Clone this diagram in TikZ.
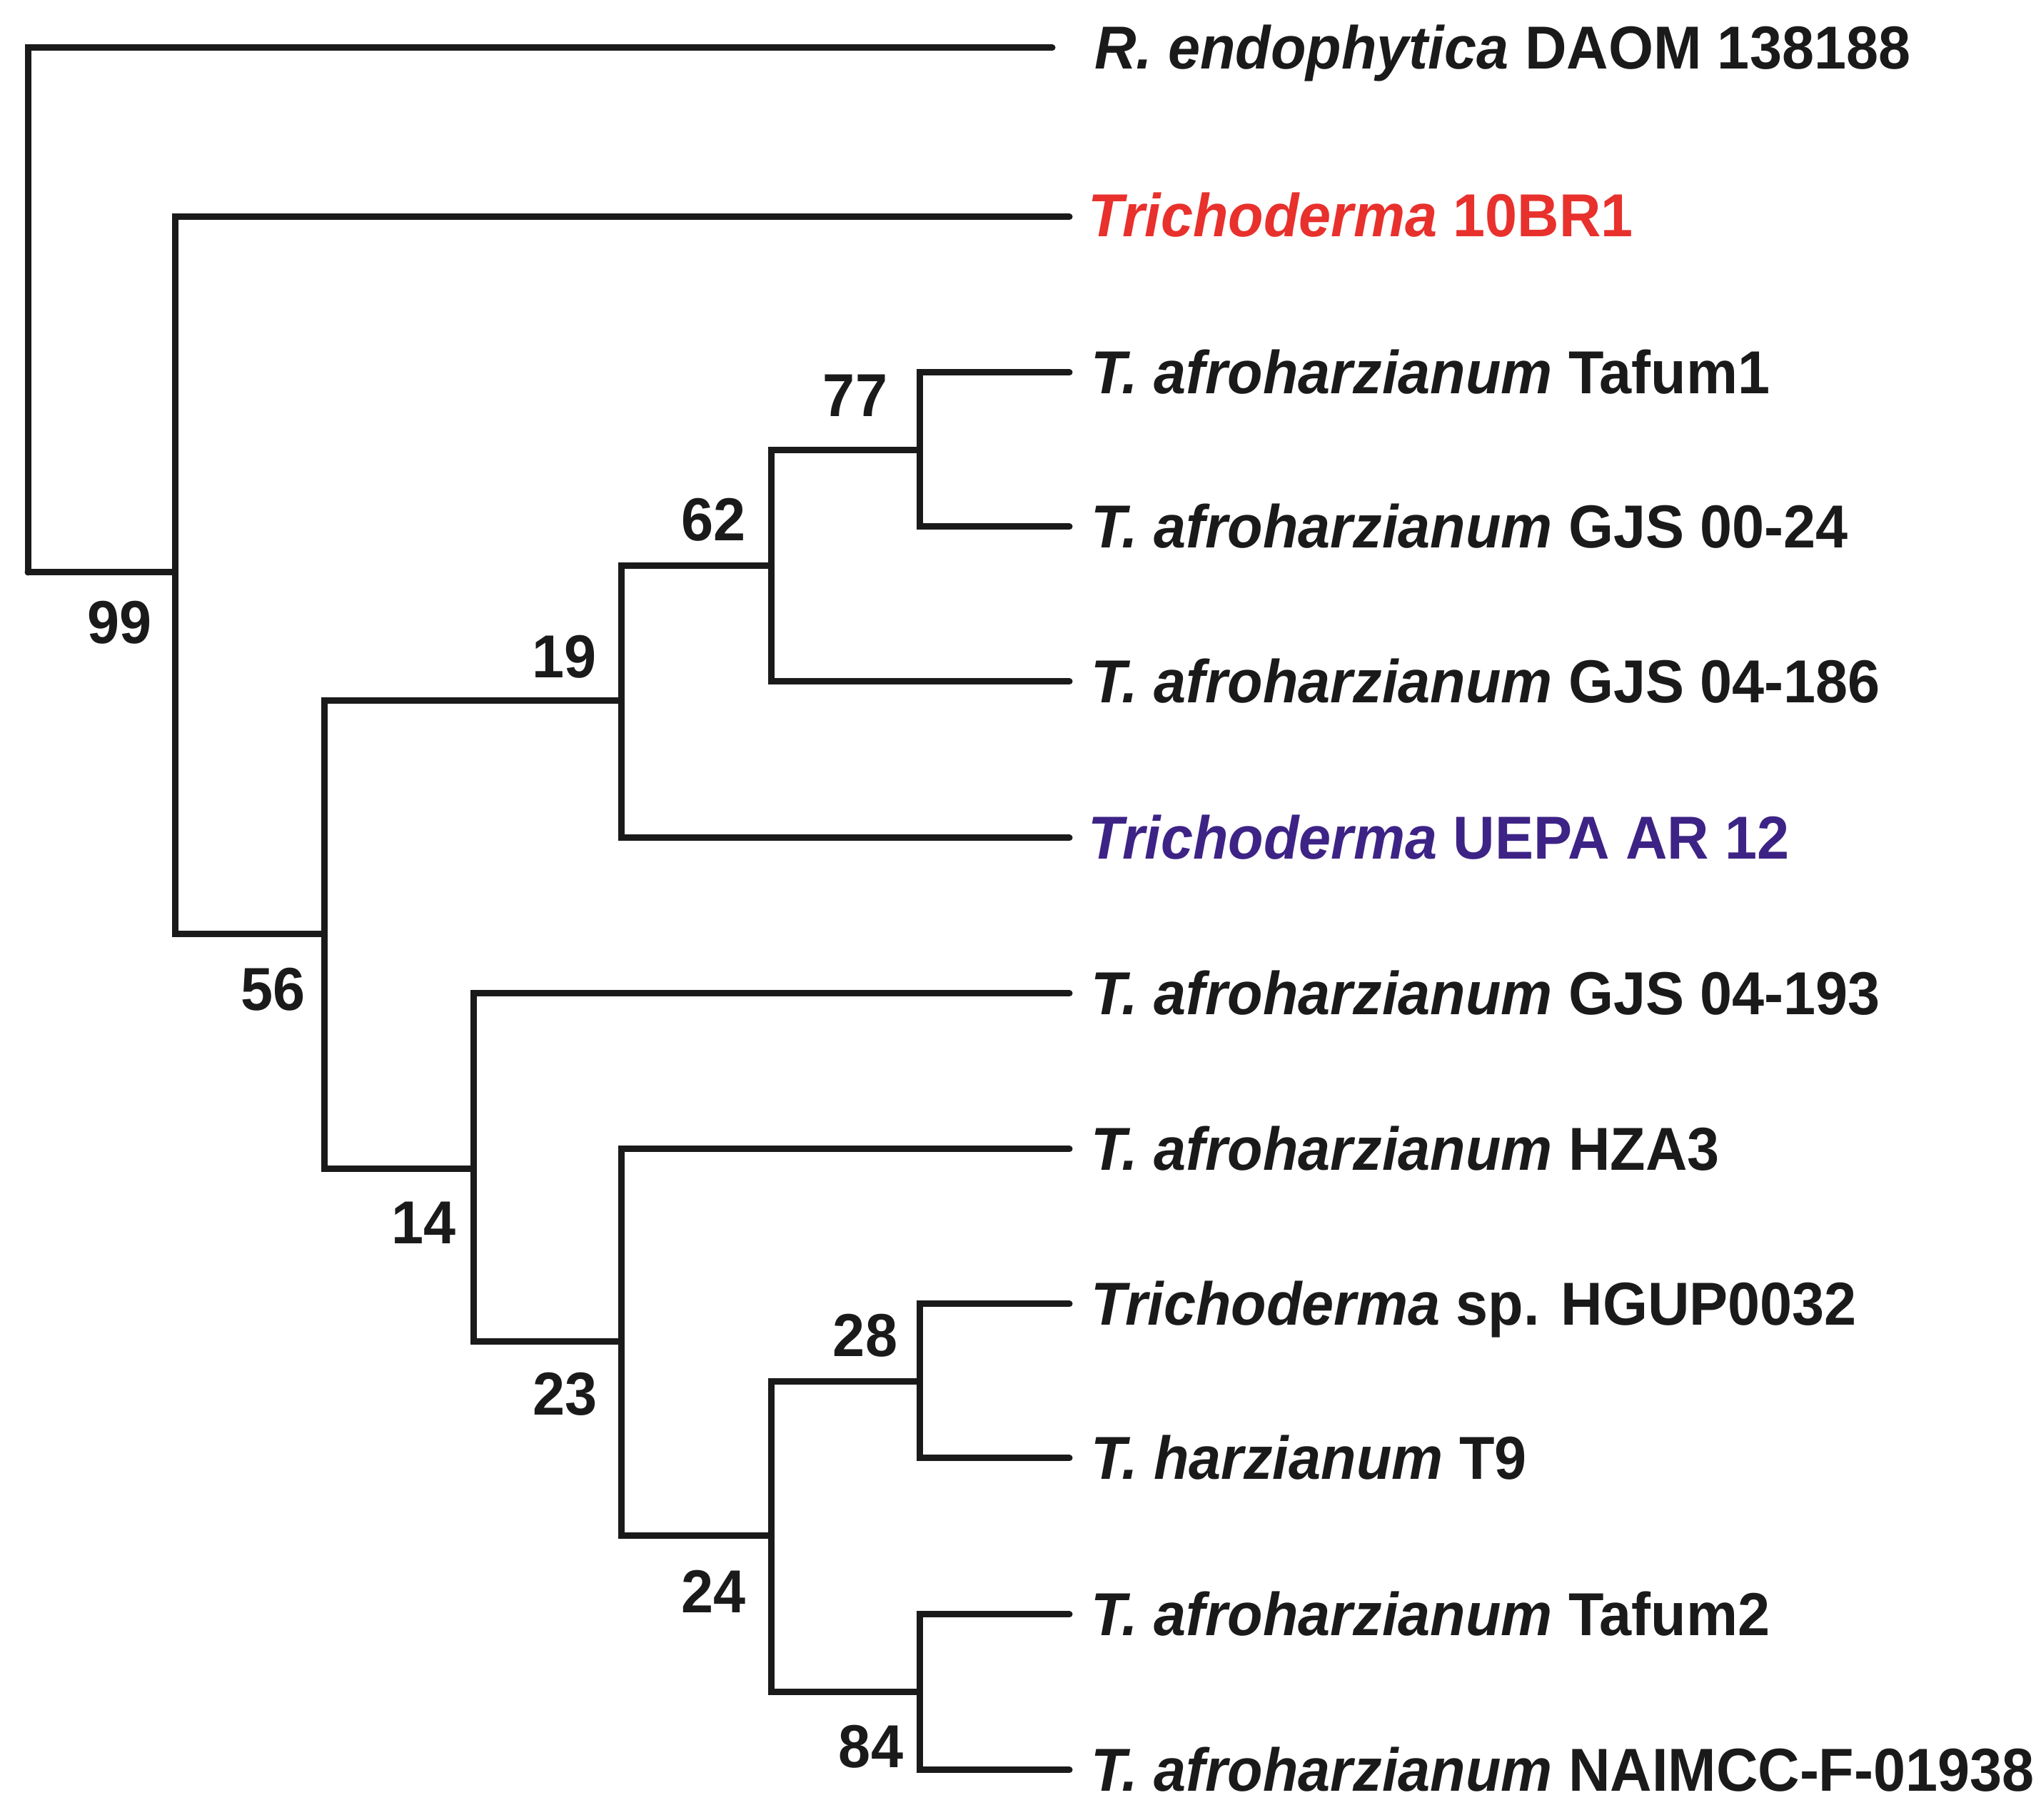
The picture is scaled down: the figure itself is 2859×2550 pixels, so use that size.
\documentclass[tikz,border=0pt]{standalone}
\usepackage{fontspec}
\setmainfont[FakeStretch=0.953]{Liberation Sans}
\definecolor{tred}{HTML}{E8302C}
\definecolor{tpurple}{HTML}{3D2385}
\definecolor{tline}{HTML}{1A1A1A}
\begin{document}
\begin{tikzpicture}[x=0.1pt,y=-0.1pt,
  branch/.style={draw=tline,line width=0.9pt,line cap=round,line join=miter},
  leaflabel/.style={anchor=base west,inner sep=0pt,font=\fontsize{8.5pt}{10pt}\selectfont\bfseries,text=tline},
  boot/.style={inner sep=0pt,font=\fontsize{8.5pt}{10pt}\selectfont\bfseries,text=tline}]
\useasboundingbox (0,0) rectangle (2859,2550);
% internal nodes
\coordinate (root) at (39,802);
\coordinate (n99) at (245,802);
\coordinate (n56) at (454,1309);
\coordinate (n19) at (870,982);
\coordinate (n62) at (1080,793);
\coordinate (n77) at (1288,631);
\coordinate (n14) at (663,1638);
\coordinate (n23) at (870,1880);
\coordinate (n24) at (1080,2152);
\coordinate (n28) at (1288,1936);
\coordinate (n84) at (1288,2371);
% leaf tips
\coordinate (eR) at (1474,67);
\coordinate (e10) at (1498,304);
\coordinate (eT1) at (1498,522);
\coordinate (eG24) at (1498,738);
\coordinate (eG186) at (1498,955);
\coordinate (eU) at (1498,1174);
\coordinate (eG193) at (1498,1392);
\coordinate (eH) at (1498,1610);
\coordinate (eHG) at (1498,1827);
\coordinate (eT9) at (1498,2043);
\coordinate (eT2) at (1498,2262);
\coordinate (eN) at (1498,2480);
% branches
\draw[branch] (root) |- (eR);
\draw[branch] (root) |- (n99);
\draw[branch] (n99) |- (e10);
\draw[branch] (n99) |- (n56);
\draw[branch] (n56) |- (n19);
\draw[branch] (n56) |- (n14);
\draw[branch] (n19) |- (n62);
\draw[branch] (n19) |- (eU);
\draw[branch] (n62) |- (n77);
\draw[branch] (n62) |- (eG186);
\draw[branch] (n77) |- (eT1);
\draw[branch] (n77) |- (eG24);
\draw[branch] (n14) |- (eG193);
\draw[branch] (n14) |- (n23);
\draw[branch] (n23) |- (eH);
\draw[branch] (n23) |- (n24);
\draw[branch] (n24) |- (n28);
\draw[branch] (n24) |- (n84);
\draw[branch] (n28) |- (eHG);
\draw[branch] (n28) |- (eT9);
\draw[branch] (n84) |- (eT2);
\draw[branch] (n84) |- (eN);
% leaf labels
\node[leaflabel] (tR) at (1531,97) {\itshape R. endophytica\upshape{} DAOM 138188};
\node[leaflabel,text=tred] (t10) at (1522,332) {\itshape Trichoderma\upshape{} 10BR1};
\node[leaflabel] (tT1) at (1526,552) {\itshape T. afroharzianum\upshape{} Tafum1};
\node[leaflabel] (tG24) at (1526,768) {\itshape T. afroharzianum\upshape{} GJS 00-24};
\node[leaflabel] (tG186) at (1526,985) {\itshape T. afroharzianum\upshape{} GJS 04-186};
\node[leaflabel,text=tpurple] (tU) at (1522,1204) {\itshape Trichoderma\upshape{} UEPA AR 12};
\node[leaflabel] (tG193) at (1526,1422) {\itshape T. afroharzianum\upshape{} GJS 04-193};
\node[leaflabel] (tH) at (1526,1640) {\itshape T. afroharzianum\upshape{} HZA3};
\node[leaflabel] (tHG) at (1526,1857) {\itshape Trichoderma\upshape{} sp. HGUP0032};
\node[leaflabel] (tT9) at (1526,2073) {\itshape T. harzianum\upshape{} T9};
\node[leaflabel] (tT2) at (1526,2292) {\itshape T. afroharzianum\upshape{} Tafum2};
\node[leaflabel] (tN) at (1526,2510) {\itshape T. afroharzianum\upshape{} NAIMCC-F-01938};
% bootstrap values
\node[boot] (b99) at (168,872) {99};
\node[boot] (b77) at (1198,554) {77};
\node[boot] (b62) at (1000,728) {62};
\node[boot] (b19) at (791,920) {19};
\node[boot] (b56) at (383,1386) {56};
\node[boot] (b14) at (594,1713) {14};
\node[boot] (b23) at (792,1953) {23};
\node[boot] (b24) at (1000,2230) {24};
\node[boot] (b28) at (1212,1871) {28};
\node[boot] (b84) at (1220,2447) {84};
\end{tikzpicture}
\end{document}
